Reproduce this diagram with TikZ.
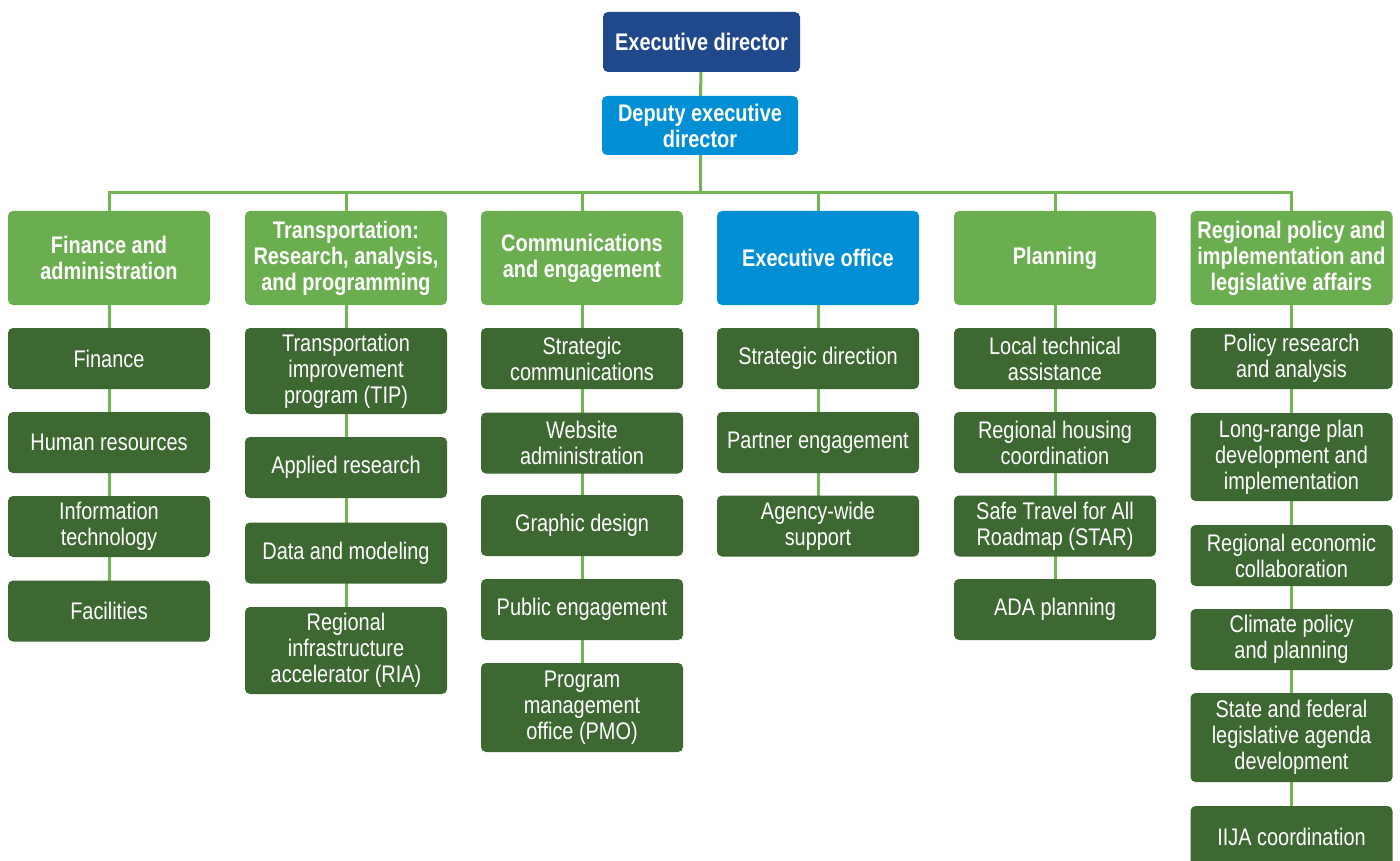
\documentclass[tikz,border=0pt]{standalone}
\usepackage{fontspec}
\setmainfont{Liberation Sans}[FakeStretch=0.83]
\usetikzlibrary{backgrounds}
\definecolor{navy}{RGB}{31,73,139}
\definecolor{sky}{RGB}{0,143,212}
\definecolor{leaf}{RGB}{107,174,79}
\definecolor{moss}{RGB}{62,104,50}
\definecolor{wire}{RGB}{114,181,83}
\tikzset{
  box/.style={rounded corners=5pt, inner sep=0pt, align=center, text=white,
    minimum width=202pt},
  topbox/.style={box, font={\fontsize{24}{26}\selectfont\bfseries}},
  headbox/.style={box, fill=leaf, minimum height=94pt, font={\fontsize{24}{26}\selectfont\bfseries}},
  unitbox/.style={box, fill=moss, minimum height=61pt, font={\fontsize{24}{26}\selectfont}},
  tallbox/.style={unitbox, minimum height=88pt},
  wireline/.style={draw=wire, line width=3pt}
}
\begin{document}
\begin{tikzpicture}[x=1pt,y=-1pt]
\useasboundingbox (0,0) rectangle (1400,861);
% top
\node[topbox, fill=navy, minimum width=197pt, minimum height=60pt] (ed) at (701.5,42) {Executive director};
\node[topbox, fill=sky, minimum width=196pt, minimum height=59pt] (ded) at (700,125.5) {Deputy executive\\director};
% heads
\node[headbox] (h1) at (109,258) {Finance and\\administration};
\node[headbox] (h2) at (346,258) {Transportation:\\Research, analysis,\\and programming};
\node[headbox] (h3) at (582,258) {Communications\\and engagement};
\node[headbox, fill=sky] (h4) at (818,258) {Executive office};
\node[headbox] (h5) at (1055,258) {Planning};
\node[headbox] (h6) at (1291.5,258) {Regional policy and\\implementation and\\legislative affairs};
% column 1
\node[unitbox] (a1) at (109,358.5) {Finance};
\node[unitbox] (a2) at (109,442.5) {Human resources};
\node[unitbox] (a3) at (109,526.5) {Information\\technology};
\node[unitbox] (a4) at (109,611) {Facilities};
% column 2
\node[tallbox, minimum height=86pt] (b1) at (346,371) {Transportation\\improvement\\program (TIP)};
\node[unitbox] (b2) at (346,467.5) {Applied research};
\node[unitbox] (b3) at (346,553) {Data and modeling};
\node[tallbox, minimum height=87pt] (b4) at (346,650.5) {Regional\\infrastructure\\accelerator (RIA)};
% column 3
\node[unitbox] (c1) at (582,358.5) {Strategic\\communications};
\node[unitbox] (c2) at (582,443) {Website\\administration};
\node[unitbox] (c3) at (582,525.5) {Graphic design};
\node[unitbox] (c4) at (582,609.5) {Public engagement};
\node[tallbox, minimum height=89pt] (c5) at (582,707.5) {Program\\management\\office (PMO)};
% column 4
\node[unitbox] (d1) at (818,358.5) {Strategic direction};
\node[unitbox] (d2) at (818,442.5) {Partner engagement};
\node[unitbox] (d3) at (818,526) {Agency-wide\\support};
% column 5
\node[unitbox] (e1) at (1055,358.5) {Local technical\\assistance};
\node[unitbox] (e2) at (1055,442.5) {Regional housing\\coordination};
\node[unitbox] (e3) at (1055,526) {Safe Travel for All\\Roadmap (STAR)};
\node[unitbox] (e4) at (1055,609.5) {ADA planning};
% column 6
\node[unitbox] (f1) at (1291.5,358.5) {Policy research\\and analysis};
\node[tallbox] (f2) at (1291.5,457) {Long-range plan\\development and\\implementation};
\node[unitbox] (f3) at (1291.5,555.5) {Regional economic\\collaboration};
\node[unitbox] (f4) at (1291.5,639.5) {Climate policy\\and planning};
\node[tallbox, minimum height=89pt] (f5) at (1291.5,737.5) {State and federal\\legislative agenda\\development};
\node[unitbox] (f6) at (1291.5,836.5) {IIJA coordination};
% connectors
\begin{scope}[on background layer]
\coordinate (bus) at (0,193);
\draw[wireline] (ed.center) -- (ded.center);
\draw[wireline] (ded.center) -- (ded.center |- bus);
\draw[wireline] (h1.center) |- (bus -| h6.center) -- (h6.center);
\foreach \h in {h2,h3,h4,h5} \draw[wireline] (\h.center) -- (\h.center |- bus);
\draw[wireline] (h1.center) -- (a4.center);
\draw[wireline] (h2.center) -- (b4.center);
\draw[wireline] (h3.center) -- (c5.center);
\draw[wireline] (h4.center) -- (d3.center);
\draw[wireline] (h5.center) -- (e4.center);
\draw[wireline] (h6.center) -- (f6.center);
\end{scope}
\end{tikzpicture}
\end{document}
